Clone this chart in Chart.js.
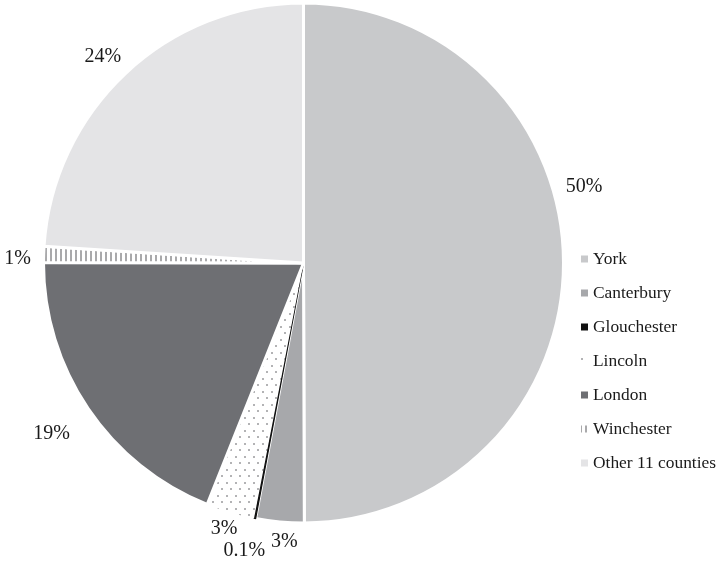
<!DOCTYPE html>
<html>
<head>
<meta charset="utf-8">
<title>Share by place</title>
<script src="https://cdn.jsdelivr.net/npm/chart.js@4/dist/chart.umd.min.js"></script>
<style>
  html, body { margin: 0; padding: 0; background: #ffffff; }
  #wrap { width: 719px; height: 563px; }
</style>
</head>
<body>
<div id="wrap"><canvas id="pie" width="719" height="563"></canvas></div>
<script>
// Categories and their shares (percent)
const places = ['York', 'Canterbury', 'Glouchester', 'Lincoln', 'London', 'Winchester', 'Other 11 counties'];
const shares = [50, 3, 0.1, 3, 19, 1, 24];

// Percentage label placement: distance beyond the rim and angular nudge (degrees)
const labelGap = [31, 19, 34, 17, 44, 26, 28];
const labelTurn = [-15.2, -1.3, 0.8, 0.3, 0, -1, -1];

const FONT = '"Liberation Serif", "Times New Roman", serif';
const INK = '#1a1a1a';

function makePattern(w, h, paint) {
  const c = document.createElement('canvas');
  c.width = w; c.height = h;
  const g = c.getContext('2d');
  paint(g);
  return g.createPattern(c, 'repeat');
}

// Dotted fill (offset grid of small grey dots on white)
const dots = makePattern(9, 13, g => {
  g.fillStyle = '#ffffff'; g.fillRect(0, 0, 9, 13);
  g.fillStyle = '#b3b3b5';
  g.fillRect(1, 1, 2, 2);
  g.fillRect(5, 7, 2, 2);
});

// Vertical stripe fill
const stripes = makePattern(5, 4, g => {
  g.fillStyle = '#ffffff'; g.fillRect(0, 0, 5, 4);
  g.fillStyle = '#a9a9ab'; g.fillRect(0, 0, 2, 4);
});

const fills = ['#c8c9cb', '#a7a8ab', '#111111', dots, '#6e6f73', stripes, '#e4e4e6'];
const edgeColors = ['#ffffff', '#ffffff', '#111111', 'rgba(0,0,0,0)', '#ffffff', '#ffffff', '#ffffff'];
const edgeWidths = [3, 3, 1.2, 0, 3, 3, 3];

// Percentage labels outside the rim
const percentLabels = {
  id: 'percentLabels',
  afterDatasetsDraw(chart) {
    const ctx = chart.ctx;
    const meta = chart.getDatasetMeta(0);
    ctx.save();
    ctx.font = '20px ' + FONT;
    ctx.fillStyle = INK;
    ctx.textAlign = 'center';
    ctx.textBaseline = 'middle';
    meta.data.forEach((arc, i) => {
      const p = arc.getProps(['x', 'y', 'startAngle', 'endAngle', 'outerRadius'], true);
      const a = (p.startAngle + p.endAngle) / 2 + labelTurn[i] * Math.PI / 180;
      const d = p.outerRadius + labelGap[i];
      const v = chart.data.datasets[0].data[i];
      ctx.fillText(v + '%', p.x + Math.cos(a) * d, p.y + Math.sin(a) * d);
    });
    ctx.restore();
  }
};

// Legend column to the right of the pie
const sideLegend = {
  id: 'sideLegend',
  afterDraw(chart) {
    const ctx = chart.ctx;
    const ds = chart.data.datasets[0];
    const x0 = 581, y0 = 259, step = 34, box = 7;
    ctx.save();
    ctx.font = '17.4px ' + FONT;
    ctx.textAlign = 'left';
    ctx.textBaseline = 'middle';
    chart.data.labels.forEach((name, i) => {
      const y = y0 + i * step;
      ctx.fillStyle = ds.backgroundColor[i];
      ctx.fillRect(x0, y - box / 2, box, box);
      ctx.fillStyle = INK;
      ctx.fillText(name, x0 + 12, y);
    });
    ctx.restore();
  }
};

new Chart(document.getElementById('pie'), {
  type: 'pie',
  data: {
    labels: places,
    datasets: [{
      data: shares,
      backgroundColor: fills,
      borderColor: edgeColors,
      borderWidth: edgeWidths
    }]
  },
  options: {
    responsive: false,
    animation: false,
    radius: 260,
    layout: { padding: { left: 44, right: 156, top: 4, bottom: 41 } },
    plugins: {
      legend: { display: false },
      tooltip: { enabled: false }
    }
  },
  plugins: [percentLabels, sideLegend]
});
</script>
</body>
</html>
